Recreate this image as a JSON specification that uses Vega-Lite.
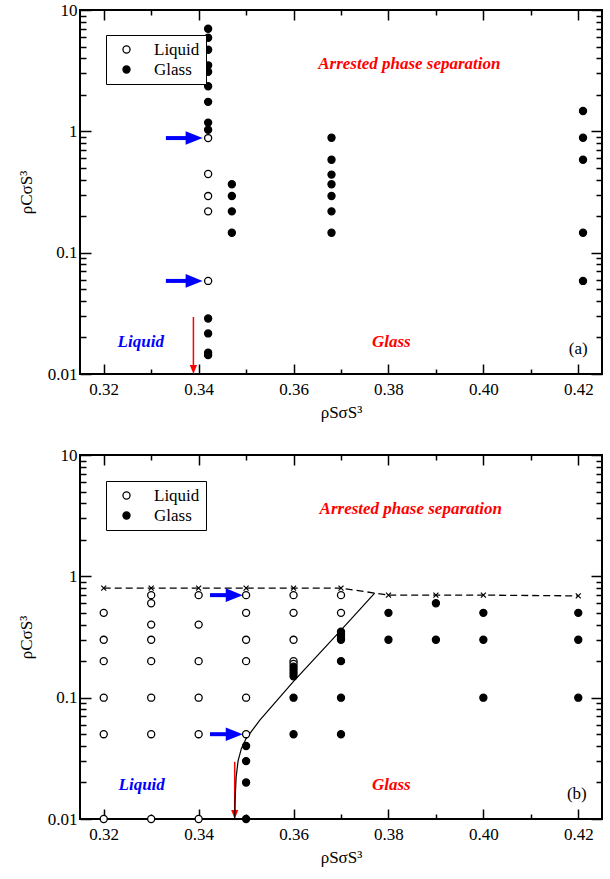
{
  "$schema": "https://vega.github.io/schema/vega-lite/v6.json",
  "padding": {"left": 16, "top": 0, "right": 8, "bottom": 5},
  "spacing": 24,
  "datasets": {
    "pa_pts": [
      {"x": 0.342, "y": 7.0, "state": "Glass"},
      {"x": 0.342, "y": 5.9, "state": "Glass"},
      {"x": 0.342, "y": 4.7, "state": "Glass"},
      {"x": 0.342, "y": 3.5, "state": "Glass"},
      {"x": 0.342, "y": 3.1, "state": "Glass"},
      {"x": 0.342, "y": 2.35, "state": "Glass"},
      {"x": 0.342, "y": 1.75, "state": "Glass"},
      {"x": 0.342, "y": 1.18, "state": "Glass"},
      {"x": 0.342, "y": 1.03, "state": "Glass"},
      {"x": 0.342, "y": 0.88, "state": "Liquid"},
      {"x": 0.342, "y": 0.445, "state": "Liquid"},
      {"x": 0.342, "y": 0.293, "state": "Liquid"},
      {"x": 0.342, "y": 0.219, "state": "Liquid"},
      {"x": 0.342, "y": 0.0585, "state": "Liquid"},
      {"x": 0.342, "y": 0.0287, "state": "Glass"},
      {"x": 0.342, "y": 0.0216, "state": "Glass"},
      {"x": 0.342, "y": 0.0150, "state": "Glass"},
      {"x": 0.342, "y": 0.0143, "state": "Glass"},
      {"x": 0.347, "y": 0.366, "state": "Glass"},
      {"x": 0.347, "y": 0.293, "state": "Glass"},
      {"x": 0.347, "y": 0.219, "state": "Glass"},
      {"x": 0.347, "y": 0.146, "state": "Glass"},
      {"x": 0.368, "y": 0.886, "state": "Glass"},
      {"x": 0.368, "y": 0.583, "state": "Glass"},
      {"x": 0.368, "y": 0.44, "state": "Glass"},
      {"x": 0.368, "y": 0.366, "state": "Glass"},
      {"x": 0.368, "y": 0.293, "state": "Glass"},
      {"x": 0.368, "y": 0.219, "state": "Glass"},
      {"x": 0.368, "y": 0.146, "state": "Glass"},
      {"x": 0.421, "y": 1.47, "state": "Glass"},
      {"x": 0.421, "y": 0.886, "state": "Glass"},
      {"x": 0.421, "y": 0.583, "state": "Glass"},
      {"x": 0.421, "y": 0.146, "state": "Glass"},
      {"x": 0.421, "y": 0.0585, "state": "Glass"}
    ],
    "pb_pts": [
      {"x": 0.32, "y": 0.5, "state": "Liquid"},
      {"x": 0.32, "y": 0.3, "state": "Liquid"},
      {"x": 0.32, "y": 0.2, "state": "Liquid"},
      {"x": 0.32, "y": 0.1, "state": "Liquid"},
      {"x": 0.32, "y": 0.05, "state": "Liquid"},
      {"x": 0.32, "y": 0.01, "state": "Liquid"},
      {"x": 0.33, "y": 0.7, "state": "Liquid"},
      {"x": 0.33, "y": 0.6, "state": "Liquid"},
      {"x": 0.33, "y": 0.4, "state": "Liquid"},
      {"x": 0.33, "y": 0.3, "state": "Liquid"},
      {"x": 0.33, "y": 0.2, "state": "Liquid"},
      {"x": 0.33, "y": 0.1, "state": "Liquid"},
      {"x": 0.33, "y": 0.05, "state": "Liquid"},
      {"x": 0.33, "y": 0.01, "state": "Liquid"},
      {"x": 0.34, "y": 0.7, "state": "Liquid"},
      {"x": 0.34, "y": 0.4, "state": "Liquid"},
      {"x": 0.34, "y": 0.2, "state": "Liquid"},
      {"x": 0.34, "y": 0.1, "state": "Liquid"},
      {"x": 0.34, "y": 0.05, "state": "Liquid"},
      {"x": 0.34, "y": 0.01, "state": "Liquid"},
      {"x": 0.35, "y": 0.7, "state": "Liquid"},
      {"x": 0.35, "y": 0.5, "state": "Liquid"},
      {"x": 0.35, "y": 0.3, "state": "Liquid"},
      {"x": 0.35, "y": 0.2, "state": "Liquid"},
      {"x": 0.35, "y": 0.1, "state": "Liquid"},
      {"x": 0.35, "y": 0.05, "state": "Liquid"},
      {"x": 0.35, "y": 0.04, "state": "Glass"},
      {"x": 0.35, "y": 0.03, "state": "Glass"},
      {"x": 0.35, "y": 0.02, "state": "Glass"},
      {"x": 0.35, "y": 0.01, "state": "Glass"},
      {"x": 0.36, "y": 0.7, "state": "Liquid"},
      {"x": 0.36, "y": 0.5, "state": "Liquid"},
      {"x": 0.36, "y": 0.3, "state": "Liquid"},
      {"x": 0.36, "y": 0.2, "state": "Liquid"},
      {"x": 0.36, "y": 0.19, "state": "Liquid"},
      {"x": 0.36, "y": 0.18, "state": "Glass"},
      {"x": 0.36, "y": 0.17, "state": "Glass"},
      {"x": 0.36, "y": 0.16, "state": "Glass"},
      {"x": 0.36, "y": 0.15, "state": "Glass"},
      {"x": 0.36, "y": 0.1, "state": "Glass"},
      {"x": 0.36, "y": 0.05, "state": "Glass"},
      {"x": 0.37, "y": 0.7, "state": "Liquid"},
      {"x": 0.37, "y": 0.5, "state": "Liquid"},
      {"x": 0.37, "y": 0.35, "state": "Glass"},
      {"x": 0.37, "y": 0.33, "state": "Glass"},
      {"x": 0.37, "y": 0.31, "state": "Glass"},
      {"x": 0.37, "y": 0.3, "state": "Glass"},
      {"x": 0.37, "y": 0.2, "state": "Glass"},
      {"x": 0.37, "y": 0.1, "state": "Glass"},
      {"x": 0.37, "y": 0.05, "state": "Glass"},
      {"x": 0.38, "y": 0.5, "state": "Glass"},
      {"x": 0.38, "y": 0.3, "state": "Glass"},
      {"x": 0.39, "y": 0.6, "state": "Glass"},
      {"x": 0.39, "y": 0.3, "state": "Glass"},
      {"x": 0.40, "y": 0.5, "state": "Glass"},
      {"x": 0.40, "y": 0.3, "state": "Glass"},
      {"x": 0.40, "y": 0.1, "state": "Glass"},
      {"x": 0.42, "y": 0.5, "state": "Glass"},
      {"x": 0.42, "y": 0.3, "state": "Glass"},
      {"x": 0.42, "y": 0.1, "state": "Glass"}
    ],
    "pb_dash": [
      {"x": 0.32, "y": 0.8}, {"x": 0.33, "y": 0.8}, {"x": 0.34, "y": 0.8},
      {"x": 0.35, "y": 0.8}, {"x": 0.36, "y": 0.8}, {"x": 0.37, "y": 0.8},
      {"x": 0.38, "y": 0.7}, {"x": 0.39, "y": 0.7}, {"x": 0.40, "y": 0.7},
      {"x": 0.42, "y": 0.69}
    ],
    "pb_solid": [
      {"x": 0.3476, "y": 0.010}, {"x": 0.3477, "y": 0.015}, {"x": 0.3479, "y": 0.022},
      {"x": 0.3483, "y": 0.030}, {"x": 0.3490, "y": 0.038}, {"x": 0.3500, "y": 0.046},
      {"x": 0.3529, "y": 0.0654}, {"x": 0.36, "y": 0.136}, {"x": 0.37, "y": 0.36},
      {"x": 0.3771, "y": 0.728}
    ],
    "pa_red": [
      {"x": 0.3844, "y": 3.59, "label": "Arrested phase separation"},
      {"x": 0.3806, "y": 0.0184, "label": "Glass"}
    ],
    "pa_blue": [{"x": 0.3278, "y": 0.0184, "label": "Liquid"}],
    "pa_black": [{"x": 0.42, "y": 0.0161, "label": "(a)"}],
    "pb_red": [
      {"x": 0.3847, "y": 3.6, "label": "Arrested phase separation"},
      {"x": 0.3806, "y": 0.0191, "label": "Glass"}
    ],
    "pb_blue": [{"x": 0.328, "y": 0.0191, "label": "Liquid"}],
    "pb_black": [{"x": 0.4197, "y": 0.0162, "label": "(b)"}],
    "pa_barrow": [
      {"x": 0.3331, "x2": 0.3394, "xh": 0.33905, "y": 0.88},
      {"x": 0.3331, "x2": 0.3394, "xh": 0.33905, "y": 0.0585}
    ],
    "pb_barrow": [
      {"x": 0.3424, "x2": 0.3478, "xh": 0.3475, "y": 0.7},
      {"x": 0.3424, "x2": 0.3478, "xh": 0.3475, "y": 0.05}
    ],
    "pa_rarrow": [{"x": 0.3389, "y": 0.0295, "y2": 0.0112, "yh": 0.01089}],
    "pb_rarrow": [{"x": 0.3476, "y": 0.0296, "y2": 0.0112, "yh": 0.01089}]
  },
  "vconcat": [
    {
      "width": 522, "height": 364,
      "layer": [
        {
          "data": {"name": "pa_red"},
          "mark": {"type": "text", "font": "Liberation Serif", "fontSize": 17, "fontWeight": "bold", "fontStyle": "italic", "color": "#ff0000"},
          "encoding": {
            "x": {"field": "x", "type": "quantitative", "scale": {"domain": [0.315, 0.425], "nice": false, "zero": false}, "axis": {"orient": "bottom", "values": [0.32, 0.34, 0.36, 0.38, 0.40, 0.42], "labels": false, "tickSize": -10, "title": null}},
            "y": {"field": "y", "type": "quantitative", "scale": {"type": "log", "domain": [0.01, 10], "nice": false}, "axis": {"orient": "left", "values": [0.01, 0.1, 1, 10], "labels": false, "tickSize": -11, "title": null}},
            "text": {"field": "label"}
          }
        },
        {
          "data": {"name": "pa_blue"},
          "mark": {"type": "text", "font": "Liberation Serif", "fontSize": 17, "fontWeight": "bold", "fontStyle": "italic", "color": "#0000ff"},
          "encoding": {
            "x": {"field": "x", "type": "quantitative", "scale": {"domain": [0.315, 0.425], "nice": false, "zero": false}, "axis": {"orient": "bottom", "values": [0.33, 0.35, 0.37, 0.39, 0.41], "labels": false, "tickSize": -5, "title": null}},
            "y": {"field": "y", "type": "quantitative", "scale": {"type": "log", "domain": [0.01, 10], "nice": false}, "axis": {"orient": "left", "values": [0.02,0.03,0.04,0.05,0.06,0.07,0.08,0.09,0.2,0.3,0.4,0.5,0.6,0.7,0.8,0.9,2,3,4,5,6,7,8,9], "labels": false, "tickSize": -6, "title": null}},
            "text": {"field": "label"}
          }
        },
        {
          "data": {"name": "pa_black"},
          "mark": {"type": "text", "font": "Liberation Serif", "fontSize": 17, "color": "black"},
          "encoding": {
            "x": {"field": "x", "type": "quantitative", "scale": {"domain": [0.315, 0.425], "nice": false, "zero": false}, "axis": {"orient": "top", "values": [0.32, 0.34, 0.36, 0.38, 0.40, 0.42], "labels": false, "tickSize": -10, "title": null}},
            "y": {"field": "y", "type": "quantitative", "scale": {"type": "log", "domain": [0.01, 10], "nice": false}, "axis": {"orient": "right", "values": [0.01, 0.1, 1, 10], "labels": false, "tickSize": -11, "title": null}},
            "text": {"field": "label"}
          }
        },
        {
          "data": {"name": "pa_barrow"},
          "mark": {"type": "rule", "color": "#0000ff", "strokeWidth": 4},
          "encoding": {
            "x": {"field": "x", "type": "quantitative", "scale": {"domain": [0.315, 0.425], "nice": false, "zero": false}, "axis": {"orient": "top", "values": [0.33, 0.35, 0.37, 0.39, 0.41], "labels": false, "tickSize": -5, "title": null}},
            "x2": {"field": "x2"},
            "y": {"field": "y", "type": "quantitative", "scale": {"type": "log", "domain": [0.01, 10], "nice": false}, "axis": {"orient": "right", "values": [0.02,0.03,0.04,0.05,0.06,0.07,0.08,0.09,0.2,0.3,0.4,0.5,0.6,0.7,0.8,0.9,2,3,4,5,6,7,8,9], "labels": false, "tickSize": -6, "title": null}}
          }
        },
        {
          "data": {"name": "pa_barrow"},
          "mark": {"type": "point", "shape": "M -1 -0.8 L 1 0 L -1 0.8 Z", "filled": true, "color": "#0000ff", "size": 289, "opacity": 1},
          "encoding": {
            "x": {"field": "xh", "type": "quantitative", "axis": null},
            "y": {"field": "y", "type": "quantitative", "axis": null}
          }
        },
        {
          "data": {"name": "pa_rarrow"},
          "mark": {"type": "rule", "color": "#ff0000", "strokeWidth": 1.5},
          "encoding": {
            "x": {"field": "x", "type": "quantitative", "axis": null},
            "y": {"field": "y", "type": "quantitative", "axis": null},
            "y2": {"field": "y2"}
          }
        },
        {
          "data": {"name": "pa_rarrow"},
          "mark": {"type": "point", "shape": "M -0.8 -1 L 0 1 L 0.8 -1 Z", "filled": true, "color": "#ff0000", "size": 81, "opacity": 1},
          "encoding": {
            "x": {"field": "x", "type": "quantitative", "axis": null},
            "y": {"field": "yh", "type": "quantitative", "axis": null}
          }
        },
        {
          "data": {"name": "pa_pts"},
          "mark": {"type": "point", "shape": "circle", "filled": true, "size": 50, "stroke": "black", "strokeWidth": 1.3, "opacity": 1},
          "encoding": {
            "x": {"field": "x", "type": "quantitative", "scale": {"domain": [0.315, 0.425], "nice": false, "zero": false}, "axis": {"orient": "bottom", "values": [0.32, 0.34, 0.36, 0.38, 0.40, 0.42], "format": ".2f", "ticks": false, "labelPadding": 7, "labelFont": "Liberation Serif", "titleFont": "Liberation Serif", "title": "ρSσS³", "titlePadding": 7}},
            "y": {"field": "y", "type": "quantitative", "scale": {"type": "log", "domain": [0.01, 10], "nice": false}, "axis": {"orient": "left", "values": [0.01, 0.1, 1, 10], "format": "~g", "ticks": false, "labelPadding": 3, "labelFont": "Liberation Serif", "titleFont": "Liberation Serif", "title": "ρCσS³", "titlePadding": 12}},
            "fill": {"field": "state", "type": "nominal", "scale": {"domain": ["Liquid", "Glass"], "range": ["white", "black"]},
              "legend": {"title": null, "orient": "none", "legendX": 26, "legendY": 25, "strokeColor": "black", "fillColor": "white", "padding": 6, "symbolOffset": 6, "labelOffset": 19, "labelFont": "Liberation Serif", "labelFontSize": 17, "labelColor": "black", "rowPadding": 2, "symbolSize": 50, "symbolType": "circle", "symbolStrokeColor": "black", "symbolStrokeWidth": 1.3, "cornerRadius": 0}}
          }
        }
      ],
      "resolve": {"axis": {"x": "independent", "y": "independent"}}
    },
    {
      "width": 522, "height": 364,
      "layer": [
        {
          "data": {"name": "pb_red"},
          "mark": {"type": "text", "font": "Liberation Serif", "fontSize": 17, "fontWeight": "bold", "fontStyle": "italic", "color": "#ff0000"},
          "encoding": {
            "x": {"field": "x", "type": "quantitative", "scale": {"domain": [0.315, 0.425], "nice": false, "zero": false}, "axis": {"orient": "bottom", "values": [0.32, 0.34, 0.36, 0.38, 0.40, 0.42], "labels": false, "tickSize": -10, "title": null}},
            "y": {"field": "y", "type": "quantitative", "scale": {"type": "log", "domain": [0.01, 10], "nice": false}, "axis": {"orient": "left", "values": [0.01, 0.1, 1, 10], "labels": false, "tickSize": -11, "title": null}},
            "text": {"field": "label"}
          }
        },
        {
          "data": {"name": "pb_blue"},
          "mark": {"type": "text", "font": "Liberation Serif", "fontSize": 17, "fontWeight": "bold", "fontStyle": "italic", "color": "#0000ff"},
          "encoding": {
            "x": {"field": "x", "type": "quantitative", "scale": {"domain": [0.315, 0.425], "nice": false, "zero": false}, "axis": {"orient": "bottom", "values": [0.33, 0.35, 0.37, 0.39, 0.41], "labels": false, "tickSize": -5, "title": null}},
            "y": {"field": "y", "type": "quantitative", "scale": {"type": "log", "domain": [0.01, 10], "nice": false}, "axis": {"orient": "left", "values": [0.02,0.03,0.04,0.05,0.06,0.07,0.08,0.09,0.2,0.3,0.4,0.5,0.6,0.7,0.8,0.9,2,3,4,5,6,7,8,9], "labels": false, "tickSize": -6, "title": null}},
            "text": {"field": "label"}
          }
        },
        {
          "data": {"name": "pb_black"},
          "mark": {"type": "text", "font": "Liberation Serif", "fontSize": 17, "color": "black"},
          "encoding": {
            "x": {"field": "x", "type": "quantitative", "scale": {"domain": [0.315, 0.425], "nice": false, "zero": false}, "axis": {"orient": "top", "values": [0.32, 0.34, 0.36, 0.38, 0.40, 0.42], "labels": false, "tickSize": -10, "title": null}},
            "y": {"field": "y", "type": "quantitative", "scale": {"type": "log", "domain": [0.01, 10], "nice": false}, "axis": {"orient": "right", "values": [0.01, 0.1, 1, 10], "labels": false, "tickSize": -11, "title": null}},
            "text": {"field": "label"}
          }
        },
        {
          "data": {"name": "pb_barrow"},
          "mark": {"type": "rule", "color": "#0000ff", "strokeWidth": 4},
          "encoding": {
            "x": {"field": "x", "type": "quantitative", "scale": {"domain": [0.315, 0.425], "nice": false, "zero": false}, "axis": {"orient": "top", "values": [0.33, 0.35, 0.37, 0.39, 0.41], "labels": false, "tickSize": -5, "title": null}},
            "x2": {"field": "x2"},
            "y": {"field": "y", "type": "quantitative", "scale": {"type": "log", "domain": [0.01, 10], "nice": false}, "axis": {"orient": "right", "values": [0.02,0.03,0.04,0.05,0.06,0.07,0.08,0.09,0.2,0.3,0.4,0.5,0.6,0.7,0.8,0.9,2,3,4,5,6,7,8,9], "labels": false, "tickSize": -6, "title": null}}
          }
        },
        {
          "data": {"name": "pb_barrow"},
          "mark": {"type": "point", "shape": "M -1 -0.8 L 1 0 L -1 0.8 Z", "filled": true, "color": "#0000ff", "size": 289, "opacity": 1},
          "encoding": {
            "x": {"field": "xh", "type": "quantitative", "axis": null},
            "y": {"field": "y", "type": "quantitative", "axis": null}
          }
        },
        {
          "data": {"name": "pb_rarrow"},
          "mark": {"type": "rule", "color": "#ff0000", "strokeWidth": 1.5},
          "encoding": {
            "x": {"field": "x", "type": "quantitative", "axis": null},
            "y": {"field": "y", "type": "quantitative", "axis": null},
            "y2": {"field": "y2"}
          }
        },
        {
          "data": {"name": "pb_rarrow"},
          "mark": {"type": "point", "shape": "M -0.8 -1 L 0 1 L 0.8 -1 Z", "filled": true, "color": "#ff0000", "size": 81, "opacity": 1},
          "encoding": {
            "x": {"field": "x", "type": "quantitative", "axis": null},
            "y": {"field": "yh", "type": "quantitative", "axis": null}
          }
        },
        {
          "data": {"name": "pb_dash"},
          "mark": {"type": "line", "color": "black", "strokeWidth": 1.3, "strokeDash": [7, 4]},
          "encoding": {
            "x": {"field": "x", "type": "quantitative", "axis": null},
            "y": {"field": "y", "type": "quantitative", "axis": null}
          }
        },
        {
          "data": {"name": "pb_dash"},
          "mark": {"type": "point", "shape": "M -1 -1 L 1 1 M -1 1 L 1 -1", "filled": false, "stroke": "black", "strokeWidth": 1.2, "size": 25, "opacity": 1},
          "encoding": {
            "x": {"field": "x", "type": "quantitative", "axis": null},
            "y": {"field": "y", "type": "quantitative", "axis": null}
          }
        },
        {
          "data": {"name": "pb_solid"},
          "mark": {"type": "line", "color": "black", "strokeWidth": 1.2},
          "encoding": {
            "x": {"field": "x", "type": "quantitative", "axis": null},
            "y": {"field": "y", "type": "quantitative", "axis": null}
          }
        },
        {
          "data": {"name": "pb_pts"},
          "mark": {"type": "point", "shape": "circle", "filled": true, "size": 50, "stroke": "black", "strokeWidth": 1.3, "opacity": 1},
          "encoding": {
            "x": {"field": "x", "type": "quantitative", "scale": {"domain": [0.315, 0.425], "nice": false, "zero": false}, "axis": {"orient": "bottom", "values": [0.32, 0.34, 0.36, 0.38, 0.40, 0.42], "format": ".2f", "ticks": false, "labelPadding": 7, "labelFont": "Liberation Serif", "titleFont": "Liberation Serif", "title": "ρSσS³", "titlePadding": 7}},
            "y": {"field": "y", "type": "quantitative", "scale": {"type": "log", "domain": [0.01, 10], "nice": false}, "axis": {"orient": "left", "values": [0.01, 0.1, 1, 10], "format": "~g", "ticks": false, "labelPadding": 3, "labelFont": "Liberation Serif", "titleFont": "Liberation Serif", "title": "ρCσS³", "titlePadding": 12}},
            "fill": {"field": "state", "type": "nominal", "scale": {"domain": ["Liquid", "Glass"], "range": ["white", "black"]},
              "legend": {"title": null, "orient": "none", "legendX": 26, "legendY": 26, "strokeColor": "black", "fillColor": "white", "padding": 6, "symbolOffset": 6, "labelOffset": 19, "labelFont": "Liberation Serif", "labelFontSize": 17, "labelColor": "black", "rowPadding": 2, "symbolSize": 50, "symbolType": "circle", "symbolStrokeColor": "black", "symbolStrokeWidth": 1.3, "cornerRadius": 0}}
          }
        }
      ],
      "resolve": {"axis": {"x": "independent", "y": "independent"}}
    }
  ],
  "resolve": {"scale": {"fill": "independent"}, "legend": {"fill": "independent"}},
  "config": {
    "view": {"stroke": "black", "strokeWidth": 2},
    "axis": {"domain": false, "grid": false, "labelFont": "Liberation Serif", "labelFontSize": 17, "labelColor": "black", "titleFont": "Liberation Serif", "titleFontSize": 17, "titleFontWeight": "normal", "titleColor": "black", "tickColor": "black", "tickWidth": 1.5, "labelFlush": false, "labelOverlap": false}
  }
}
